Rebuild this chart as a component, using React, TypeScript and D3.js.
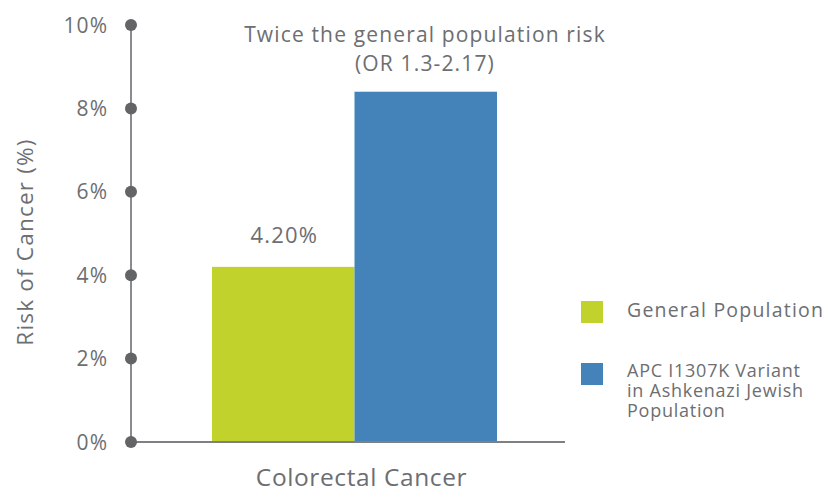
import React from 'react';
import * as d3 from 'd3';

const categories = ['Colorectal Cancer'];
const seriesNames = ['General Population', 'APC I1307K Variant in Ashkenazi Jewish Population'];
const legendLines = [['General Population'], ['APC I1307K Variant', 'in Ashkenazi Jewish', 'Population']];
const seriesValues = [4.2, 8.4];
const seriesColors = ['#c0d22b', '#4383b9'];
const yTicks = [0, 2, 4, 6, 8, 10];
const valueLabel = '4.20%';
const annotation = ['Twice the general population risk', '(OR 1.3-2.17)'];

const width = 840;
const height = 492;
const font = '"Open Sans", Roboto, sans-serif';
const textColor = '#6d6e71';

const App: React.FC = () => {
  // Scales
  const y = d3.scaleLinear().domain([0, 10]).range([442, 25]);
  const xCat = d3.scaleBand().domain(categories).range([131, 565]).paddingInner(0).paddingOuter(0);
  const barOuterStart = 212;
  const barOuterEnd = 497;
  const xSeries = d3.scaleBand().domain(seriesNames).range([barOuterStart, barOuterEnd]).padding(0);
  const catCenter = (barOuterStart + barOuterEnd) / 2;

  return (
    <svg width={width} height={height} style={{ position: 'absolute', left: 0, top: 0, fontFamily: font }}>
      <rect width={width} height={height} fill="#fff" />

      {/* bars */}
      {seriesNames.map((s, i) => (
        <rect
          key={s}
          x={xSeries(s)}
          y={y(seriesValues[i])}
          width={xSeries.bandwidth()}
          height={y(0) - y(seriesValues[i])}
          fill={seriesColors[i]}
        />
      ))}

      {/* axes */}
      <line x1={131} x2={xCat.range()[1]} y1={y(0)} y2={y(0)} stroke="#7f8083" strokeWidth={2} />
      <line x1={131} x2={131} y1={y(10)} y2={y(0)} stroke="#8a8b8e" strokeWidth={2} />
      {yTicks.map(t => (
        <g key={t}>
          <circle cx={131} cy={y(t)} r={6} fill="#636466" />
          <text x={108} y={y(t)} dy="0.36em" textAnchor="end" fontSize={21} letterSpacing={1} fill={textColor}>{t}%</text>
        </g>
      ))}

      {/* y title */}
      <text
        transform={`translate(33,242) rotate(-90)`}
        textAnchor="middle"
        fontSize={22.5}
        letterSpacing={1.2}
        fill={textColor}
      >Risk of Cancer (%)</text>

      {/* x label */}
      <text x={catCenter + 7} y={486} textAnchor="middle" fontSize={24.5} letterSpacing={0.6} fill={textColor}>{categories[0]}</text>

      {/* value label */}
      <text x={(xSeries(seriesNames[0])! + xSeries.bandwidth() / 2) + 1} y={y(seriesValues[0]) - 24} textAnchor="middle" fontSize={22} letterSpacing={1.2} fill={textColor}>{valueLabel}</text>

      {/* annotation */}
      {annotation.map((line, i) => (
        <text key={i} x={425} y={42 + i * 29} textAnchor="middle" fontSize={21} letterSpacing={1.15} fill={textColor}>{line}</text>
      ))}

      {/* legend */}
      {seriesNames.map((s, i) => {
        const top = i === 0 ? 301 : 363;
        return (
          <g key={s}>
            <rect x={581} y={top} width={22} height={22} fill={seriesColors[i]} />
            {legendLines[i].map((l, j) => (
              <text
                key={j}
                x={627}
                y={i === 0 ? top + 16 : top + 14 + j * 20}
                fontSize={i === 0 ? 19.5 : 18}
                letterSpacing={i === 0 ? 1.2 : 0.75}
                fill={textColor}
              >{l}</text>
            ))}
          </g>
        );
      })}
    </svg>
  );
};

export default App;
